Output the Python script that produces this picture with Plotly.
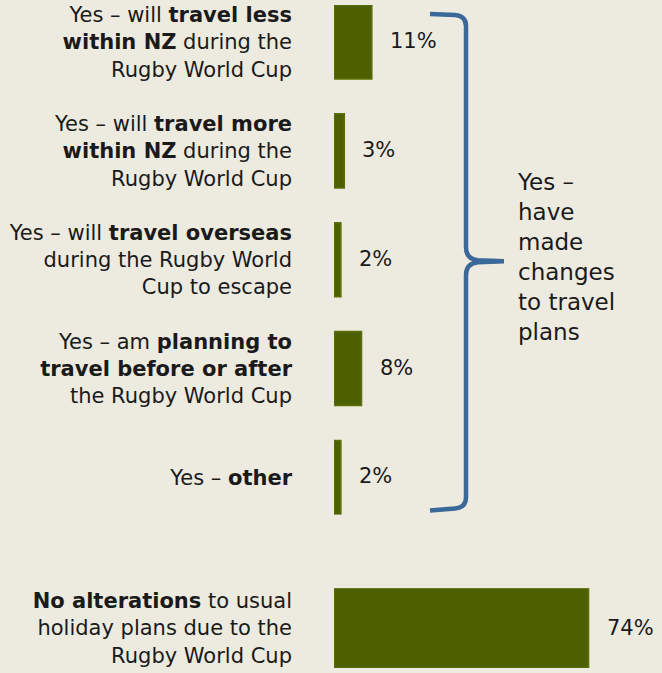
import plotly.graph_objects as go

# ---- data ----
yes_labels = [
    "Yes – will <b>travel less</b><br><b>within NZ</b> during the<br>Rugby World Cup",
    "Yes – will <b>travel more</b><br><b>within NZ</b> during the<br>Rugby World Cup",
    "Yes – will <b>travel overseas</b><br>during the Rugby World<br>Cup to escape",
    "Yes – am <b>planning to</b><br><b>travel before or after</b><br>the Rugby World Cup",
    "Yes – <b>other</b>",
]
yes_values = [11, 3, 2, 8, 2]
no_labels = ["<b>No alterations</b> to usual<br>holiday plans due to the<br>Rugby World Cup"]
no_values = [74]
group_label = "Yes –<br>have<br>made<br>changes<br>to travel<br>plans"

# ---- style ----
W, H = 662, 673
BG = "#EDEAE0"
BAR = "#4D6000"
BAR_LINE = "#5B7004"
TXT = "#1A1A1A"
BRACE = "#3A6899"
FONT = "DejaVu Sans"

def px(x):
    return x / W

def py(y):
    return 1 - y / H

fig = go.Figure()
fig.add_trace(go.Bar(
    x=yes_values, y=yes_labels, orientation="h", width=0.68,
    marker=dict(color=BAR, line=dict(color=BAR_LINE, width=1.5)),
    xaxis="x", yaxis="y", hoverinfo="skip", showlegend=False,
))
fig.add_trace(go.Bar(
    x=no_values, y=no_labels, orientation="h", width=1.0,
    marker=dict(color=BAR, line=dict(color=BAR_LINE, width=1.5)),
    xaxis="x2", yaxis="y2", hoverinfo="skip", showlegend=False,
))

annotations = []
for lab, v in zip(yes_labels, yes_values):
    annotations.append(dict(x=v, y=lab, xref="x", yref="y", text=f"{v}%",
                            showarrow=False, xanchor="left", xshift=16, yshift=1,
                            font=dict(size=21, color=TXT, family=FONT)))
for lab, v in zip(no_labels, no_values):
    annotations.append(dict(x=v, y=lab, xref="x2", yref="y2", text=f"{v}%",
                            showarrow=False, xanchor="left", xshift=16,
                            font=dict(size=21, color=TXT, family=FONT)))
annotations.append(dict(x=px(515), y=py(256), xref="paper", yref="paper",
                        text=group_label, showarrow=False, xanchor="left",
                        yanchor="middle", align="left",
                        font=dict(size=23, color=TXT, family=FONT)))

# curly brace (paper coordinates)
pts = [
    ("M", 430, 12), ("L", 455, 13), ("Q", 466, 14, 466, 24), ("L", 466, 246),
    ("Q", 466, 258, 478, 259), ("L", 504, 260),
    ("M", 504, 260), ("L", 478, 261), ("Q", 466, 262, 466, 274),
    ("L", 466, 497), ("Q", 466, 507, 455, 508), ("L", 430, 510),
]
path = ""
for p in pts:
    cmd = p[0]
    coords = p[1:]
    s = []
    for i in range(0, len(coords), 2):
        s.append(f"{px(coords[i]):.5f},{py(coords[i+1]):.5f}")
    path += cmd + " " + " ".join(s) + " "

shapes = [dict(type="path", path=path.strip(), xref="paper", yref="paper",
               line=dict(color=BRACE, width=4.5))]

xmax = (W - 334) / 3.44
axis_common = dict(showgrid=False, zeroline=False, showline=False,
                   showticklabels=False, range=[0, xmax], fixedrange=True)
yaxis_common = dict(showgrid=False, zeroline=False, showline=False,
                    ticks="", ticklabelstandoff=41,
                    tickfont=dict(size=21, color=TXT, family=FONT),
                    type="category", fixedrange=True)

fig.update_layout(
    width=W, height=H,
    margin=dict(l=0, r=0, t=0, b=0),
    paper_bgcolor=BG, plot_bgcolor=BG,
    xaxis=dict(domain=[px(334), 1], anchor="y", **axis_common),
    yaxis=dict(domain=[py(514), py(3)], anchor="x",
               range=[4.34, -0.34], autorange=False, **yaxis_common),
    xaxis2=dict(domain=[px(334), 1], anchor="y2", **axis_common),
    yaxis2=dict(domain=[py(668), py(588)], anchor="x2",
                range=[0.5, -0.5], autorange=False, **yaxis_common),
    annotations=annotations,
    shapes=shapes,
    font=dict(family=FONT, color=TXT),
)

fig.write_html("out.html",
               config={"displayModeBar": False},
               post_script="document.body.style.margin='0';"
                           "document.body.style.background='" + BG + "';"
                           "document.body.style.overflow='hidden';")
